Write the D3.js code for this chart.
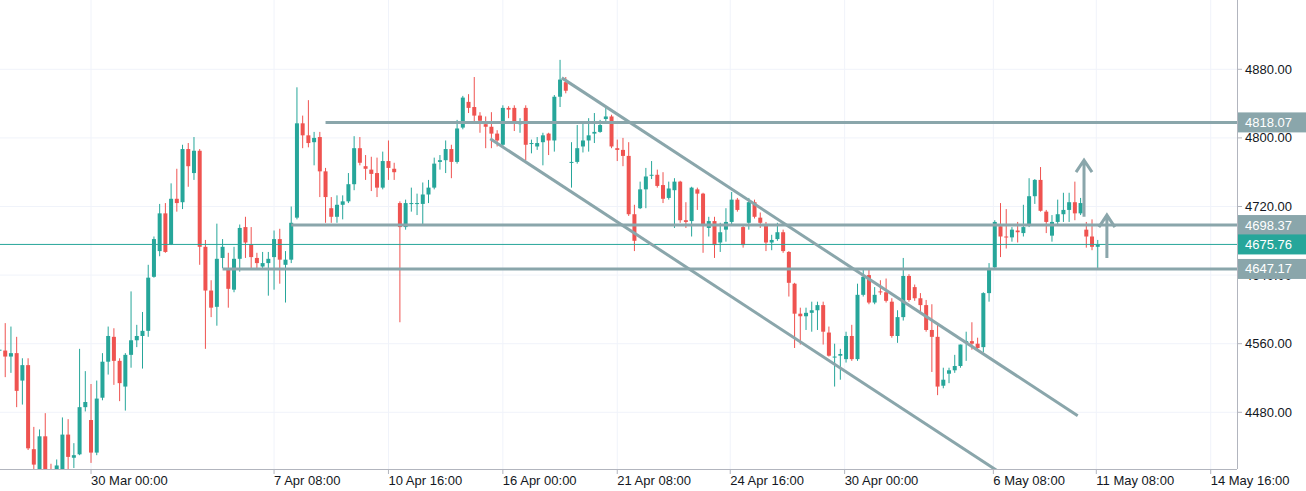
<!DOCTYPE html>
<html><head><meta charset="utf-8">
<script src="https://cdn.jsdelivr.net/npm/d3@7/dist/d3.min.js"></script>
<style>body{margin:0;background:#fff}svg{display:block;font-family:"Liberation Sans",Arial,sans-serif}</style>
</head><body><svg id="c" width="1306" height="491"></svg>
<script>
// OHLC 4h candles, index 0..192
const opens  = [4552,4552,4545,4549,4517,4535,4437,4413,4452,4407,4400,4407,4454,4427,4431,4486,4471,4433,4497,4539,4568,4540,4510,4547,4564,4569,4575,4638,4668,4712,4676,4729,4725,4787,4759,4785,4673,4622,4603,4660,4647,4623,4659,4696,4676,4660,4650,4654,4661,4682,4652,4658,4707,4817,4803,4795,4801,4761,4718,4708,4722,4726,4746,4788,4767,4763,4759,4742,4773,4764,4724,4696,4723,4723,4723,4734,4742,4772,4774,4787,4772,4812,4842,4836,4826,4816,4813,4805,4792,4835,4835,4816,4835,4793,4790,4795,4805,4797,4848,4865,4771,4772,4790,4797,4805,4807,4822,4825,4788,4786,4779,4711,4718,4740,4757,4757,4745,4730,4739,4749,4704,4703,4740,4735,4695,4703,4678,4693,4702,4728,4696,4701,4725,4707,4699,4678,4682,4690,4667,4630,4595,4592,4596,4599,4605,4573,4544,4546,4542,4569,4542,4617,4640,4608,4621,4620,4609,4569,4591,4639,4626,4613,4605,4576,4568,4511,4525,4529,4534,4561,4563,4560,4556,4619,4649,4697,4685,4684,4692,4689,4699,4732,4751,4714,4686,4702,4711,4716,4725,4712,4693,4685,4673];
const highs  = [4559,4584,4580,4568,4543,4543,4463,4460,4479,4420,4425,4474,4472,4444,4554,4528,4513,4517,4549,4580,4578,4543,4549,4621,4582,4597,4652,4685,4723,4724,4747,4764,4792,4794,4801,4787,4681,4634,4700,4682,4666,4673,4699,4708,4696,4666,4667,4667,4692,4694,4668,4720,4859,4826,4844,4807,4807,4765,4731,4733,4733,4759,4802,4801,4780,4778,4777,4784,4797,4771,4726,4728,4742,4735,4748,4751,4777,4780,4797,4792,4821,4849,4851,4871,4830,4825,4830,4809,4838,4837,4838,4823,4838,4798,4801,4806,4806,4850,4891,4871,4795,4815,4819,4823,4829,4821,4835,4827,4798,4800,4795,4722,4749,4765,4773,4763,4760,4749,4753,4750,4725,4743,4742,4736,4708,4708,4701,4718,4737,4730,4699,4730,4728,4713,4702,4687,4701,4693,4668,4631,4602,4602,4609,4609,4609,4580,4560,4554,4574,4582,4630,4646,4646,4626,4634,4636,4613,4599,4660,4641,4629,4619,4611,4606,4582,4532,4532,4547,4559,4574,4585,4567,4620,4654,4704,4724,4717,4696,4702,4722,4753,4752,4766,4716,4710,4728,4736,4736,4749,4730,4702,4705,4681];
const lows   = [4549,4521,4526,4486,4489,4436,4401,4407,4396,4390,4395,4401,4413,4415,4430,4481,4421,4430,4494,4524,4512,4493,4482,4532,4556,4531,4568,4637,4662,4666,4675,4714,4717,4743,4751,4652,4554,4591,4581,4648,4602,4620,4644,4660,4648,4648,4648,4616,4623,4630,4608,4654,4705,4788,4789,4768,4731,4701,4701,4701,4705,4724,4739,4768,4751,4738,4731,4740,4751,4751,4585,4693,4714,4710,4699,4724,4740,4763,4759,4753,4770,4810,4829,4819,4806,4788,4788,4790,4790,4823,4808,4806,4774,4782,4786,4768,4780,4784,4836,4852,4742,4770,4783,4784,4794,4806,4819,4788,4773,4767,4709,4668,4717,4718,4752,4742,4724,4728,4695,4701,4695,4685,4716,4666,4685,4660,4667,4679,4699,4714,4672,4693,4706,4695,4668,4669,4680,4666,4615,4555,4559,4576,4574,4576,4559,4545,4510,4518,4538,4540,4540,4615,4606,4606,4617,4608,4567,4561,4587,4609,4610,4597,4574,4527,4500,4508,4514,4526,4532,4540,4553,4553,4550,4609,4646,4661,4671,4679,4678,4685,4696,4723,4714,4689,4679,4698,4702,4702,4704,4710,4672,4669,4648];
const closes = [4553,4545,4549,4505,4535,4438,4419,4452,4407,4400,4418,4454,4428,4430,4486,4492,4433,4496,4539,4569,4540,4514,4547,4564,4569,4575,4637,4682,4712,4667,4729,4724,4787,4767,4785,4673,4622,4602,4659,4673,4624,4659,4695,4678,4661,4654,4654,4659,4682,4658,4658,4701,4817,4803,4794,4800,4761,4731,4708,4722,4726,4746,4788,4771,4764,4758,4742,4773,4765,4760,4696,4724,4724,4724,4734,4742,4770,4774,4787,4772,4811,4847,4835,4826,4820,4813,4805,4797,4835,4833,4818,4818,4792,4794,4794,4803,4797,4848,4868,4855,4772,4788,4797,4803,4807,4815,4825,4790,4786,4779,4711,4680,4740,4755,4757,4744,4729,4741,4749,4704,4702,4742,4735,4699,4703,4675,4690,4702,4728,4716,4675,4725,4708,4701,4678,4681,4690,4668,4631,4595,4592,4596,4599,4605,4574,4546,4545,4548,4569,4542,4617,4638,4608,4617,4620,4610,4569,4591,4639,4611,4613,4605,4576,4568,4510,4518,4529,4534,4559,4563,4560,4555,4619,4646,4702,4685,4684,4693,4690,4696,4732,4751,4715,4702,4702,4711,4716,4725,4712,4724,4685,4673,4675.76];
const yTicks = [4480,4560,4640,4720,4800,4880];
const xTickIdx = [16,48,68,88,108,127.75,147.75,173.75,191.75,211.75];
const xTickLabels = ["30 Mar 00:00","7 Apr 08:00","10 Apr 16:00","16 Apr 00:00","21 Apr 08:00","24 Apr 16:00","30 Apr 00:00","6 May 08:00","11 May 08:00","14 May 16:00"];
const levels = [4818.07, 4698.37, 4647.17];
const levelStart = [57, 51, 39];
const lastPrice = 4675.76;
const channelUpper = [[98.3,4870],[188.5,4476]];
const channelLower = [[85.8,4799],[176,4405]];
const arrows = [[[189.6,4708],[189.6,4774]],[[193.6,4660],[193.6,4710]]];

const W=1237, H=469;
const svg=d3.select("#c");
const x=d3.scaleLinear().domain([0,216]).range([-0.5,-0.5+216*5.72]);
const y=d3.scaleLinear().domain([4480,4880]).range([412.3,69.3]);
const up="#26a69a", dn="#ef5350", draw="#8aa6ab";

svg.append("defs").append("clipPath").attr("id","cp").append("rect").attr("width",W).attr("height",H);
const g=svg.append("g").attr("clip-path","url(#cp)");
g.selectAll(".hg").data(yTicks).join("line").attr("x1",0).attr("x2",W).attr("y1",d=>y(d)).attr("y2",d=>y(d)).attr("stroke","#f0f3fa");
g.selectAll(".vg").data(xTickIdx).join("line").attr("x1",d=>x(d)).attr("x2",d=>x(d)).attr("y1",0).attr("y2",H).attr("stroke","#f0f3fa");

const data=opens.map((o,i)=>({i,o,h:highs[i],l:lows[i],c:closes[i]}));
const col=d=>d.c>=d.o?up:dn;
g.selectAll(".wk").data(data).join("line").attr("x1",d=>x(d.i)).attr("x2",d=>x(d.i)).attr("y1",d=>y(d.h)).attr("y2",d=>y(d.l)).attr("stroke",col).attr("stroke-width",1);
g.selectAll(".bd").data(data).join("rect").attr("x",d=>x(d.i)-2).attr("width",4)
 .attr("y",d=>y(Math.max(d.o,d.c))).attr("height",d=>Math.max(1,Math.abs(y(d.o)-y(d.c)))).attr("fill",col);

g.append("line").attr("x1",0).attr("x2",W).attr("y1",y(lastPrice)).attr("y2",y(lastPrice)).attr("stroke",up).attr("stroke-width",1);
levels.forEach((v,k)=>g.append("line").attr("x1",x(levelStart[k])).attr("x2",W).attr("y1",y(v)).attr("y2",y(v)).attr("stroke",draw).attr("stroke-width",3));
[channelUpper,channelLower].forEach(c=>g.append("line").attr("x1",x(c[0][0])).attr("y1",y(c[0][1])).attr("x2",x(c[1][0])).attr("y2",y(c[1][1])).attr("stroke",draw).attr("stroke-width",3));
arrows.forEach(a=>{
  const x0=x(a[0][0]), y0=y(a[0][1]), y1=y(a[1][1]);
  g.append("path").attr("d",`M${x0},${y0}V${y1}M${x0-8},${y1+12}L${x0},${y1}L${x0+8},${y1+12}`).attr("fill","none").attr("stroke",draw).attr("stroke-width",3);
});

svg.append("line").attr("x1",W+0.5).attr("x2",W+0.5).attr("y1",0).attr("y2",H).attr("stroke","#b2b5be");
svg.append("line").attr("x1",0).attr("x2",W).attr("y1",H+0.5).attr("y2",H+0.5).attr("stroke","#b2b5be");

const ya=svg.append("g");
yTicks.forEach(v=>{
  ya.append("line").attr("x1",W).attr("x2",W+5).attr("y1",y(v)).attr("y2",y(v)).attr("stroke","#b2b5be");
  ya.append("text").attr("x",W+8).attr("y",y(v)+4.5).attr("font-size",13).attr("fill","#131722").text(d3.format(".2f")(v));
});
xTickIdx.forEach((t,k)=>{
  svg.append("line").attr("x1",x(t)).attr("x2",x(t)).attr("y1",H).attr("y2",H+5).attr("stroke","#b2b5be");
  svg.append("text").attr("x",x(t)).attr("y",H+16).attr("font-size",13).attr("fill","#131722").text(xTickLabels[k]);
});
const boxes=[[levels[0],draw],[levels[1],draw],[lastPrice,up],[levels[2],draw]];
boxes.forEach(([v,c])=>{
  svg.append("rect").attr("x",W+1).attr("y",y(v)-10).attr("width",68).attr("height",20).attr("fill",c);
  svg.append("text").attr("x",W+8).attr("y",y(v)+4.5).attr("font-size",13).attr("fill","#fff").text(d3.format(".2f")(v));
});
</script></body></html>
